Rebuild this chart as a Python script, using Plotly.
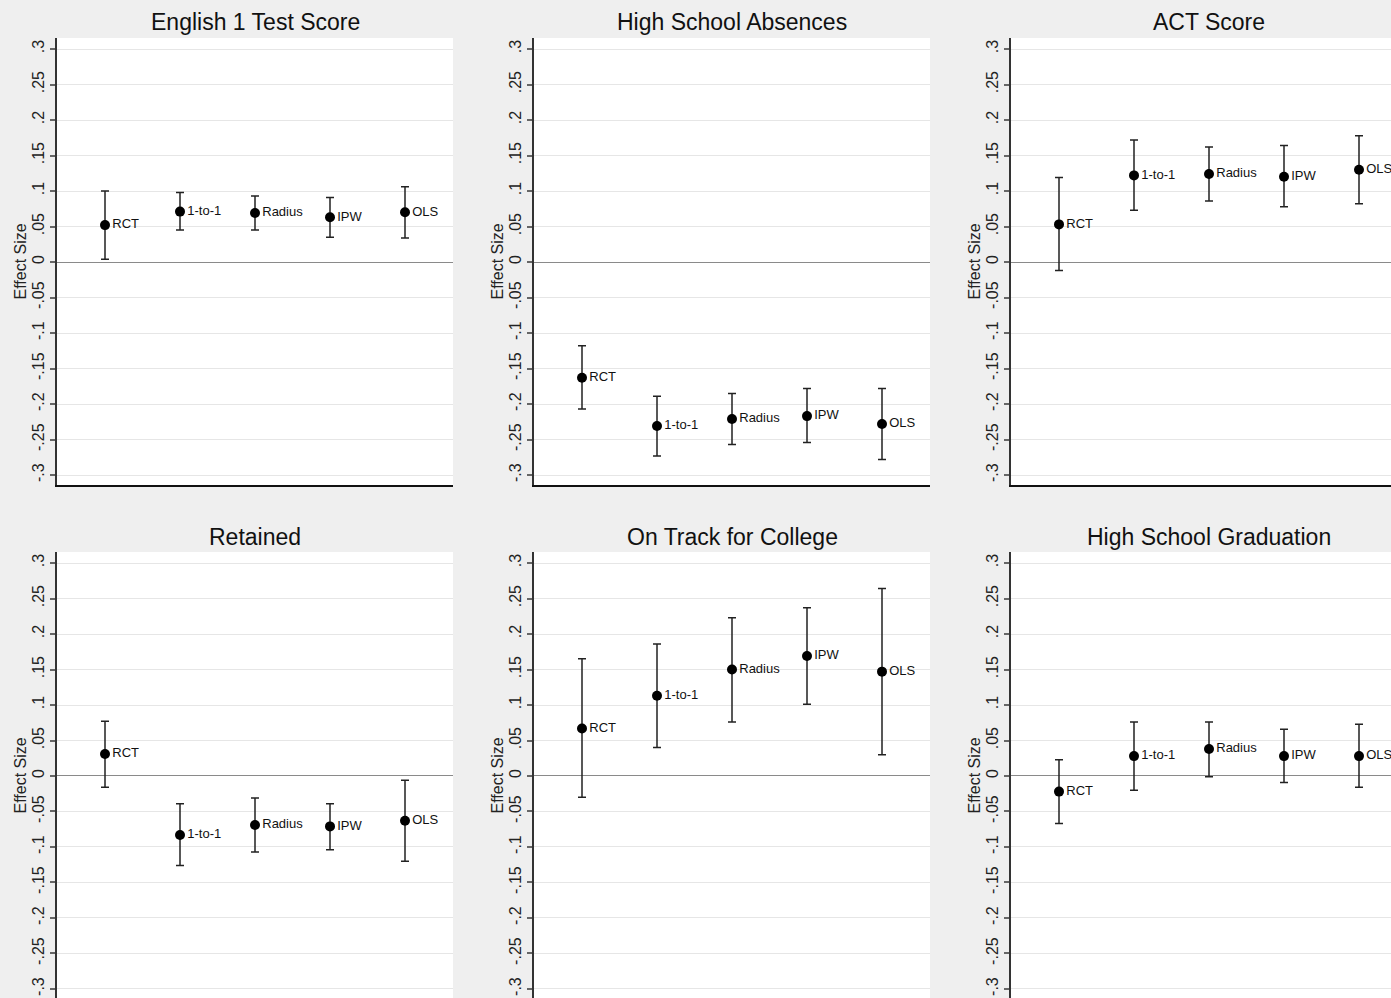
import plotly.graph_objects as go

methods = ["RCT", "1-to-1", "Radius", "IPW", "OLS"]
method_pos = [1, 2, 3, 4, 5]

titles = ["English 1 Test Score", "High School Absences", "ACT Score",
          "Retained", "On Track for College", "High School Graduation"]

english_est = [0.052, 0.071, 0.069, 0.063, 0.070]
english_lo = [0.004, 0.045, 0.045, 0.035, 0.034]
english_hi = [0.100, 0.098, 0.093, 0.091, 0.106]

absences_est = [-0.163, -0.231, -0.221, -0.217, -0.228]
absences_lo = [-0.207, -0.273, -0.257, -0.254, -0.278]
absences_hi = [-0.118, -0.189, -0.185, -0.178, -0.178]

act_est = [0.053, 0.122, 0.124, 0.120, 0.130]
act_lo = [-0.012, 0.073, 0.086, 0.078, 0.082]
act_hi = [0.119, 0.172, 0.162, 0.164, 0.178]

retained_est = [0.031, -0.083, -0.069, -0.071, -0.063]
retained_lo = [-0.016, -0.126, -0.107, -0.104, -0.120]
retained_hi = [0.077, -0.039, -0.031, -0.039, -0.006]

ontrack_est = [0.067, 0.113, 0.150, 0.169, 0.147]
ontrack_lo = [-0.030, 0.040, 0.076, 0.101, 0.030]
ontrack_hi = [0.165, 0.186, 0.223, 0.237, 0.264]

grad_est = [-0.022, 0.028, 0.038, 0.028, 0.028]
grad_lo = [-0.067, -0.020, -0.001, -0.009, -0.016]
grad_hi = [0.023, 0.076, 0.076, 0.066, 0.073]

panels = [
    (english_est, english_lo, english_hi),
    (absences_est, absences_lo, absences_hi),
    (act_est, act_lo, act_hi),
    (retained_est, retained_lo, retained_hi),
    (ontrack_est, ontrack_lo, ontrack_hi),
    (grad_est, grad_lo, grad_hi),
]

tick_vals = [-0.3, -0.25, -0.2, -0.15, -0.1, -0.05, 0, 0.05, 0.1, 0.15, 0.2, 0.25, 0.3]
tick_text = ["-.3", "-.25", "-.2", "-.15", "-.1", "-.05", "0", ".05", ".1", ".15", ".2", ".25", ".3"]

W, H = 1391, 998
FONT = "Liberation Sans, Arial, Helvetica, sans-serif"

# pixel layout
col_left = [57, 534, 1011]
col_right = [453, 930, 1391]
col_full_right = [453, 930, 1407]
row_top = [38, 552]
row_bot = [485, 998]
title_y = [22, 537]
px_per_x = 75.0
x0 = 0.36

fig = go.Figure()
annotations = []
for i, (est, lo, hi) in enumerate(panels):
    r, c = divmod(i, 3)
    ax = "" if i == 0 else str(i + 1)
    plus = [h - e for h, e in zip(hi, est)]
    minus = [e - l for e, l in zip(est, lo)]
    fig.add_trace(go.Scatter(
        x=method_pos, y=est, mode="markers+text",
        text=methods, textposition="middle right",
        textfont=dict(family=FONT, size=13, color="#111"),
        marker=dict(color="black", size=10),
        error_y=dict(type="data", array=plus, arrayminus=minus,
                     color="#222", thickness=1.5, width=4),
        cliponaxis=False,
        xaxis="x" + ax, yaxis="y" + ax, showlegend=False, hoverinfo="skip",
    ))
    wpx = col_right[c] - col_left[c]
    xd = [col_left[c] / W, col_right[c] / W]
    yd = [1 - row_bot[r] / H, 1 - row_top[r] / H]
    if r == 0:
        yr = [-0.314, 0.3155]
    else:
        yr = [-0.3127, 0.3155]
    fig.update_layout(**{
        "xaxis" + ax: dict(domain=xd, range=[x0, x0 + wpx / px_per_x],
                           showgrid=False, zeroline=False, showticklabels=False,
                           ticks="", showline=(r == 0), linecolor="#111", linewidth=1.5,
                           anchor="y" + ax, fixedrange=True),
        "yaxis" + ax: dict(domain=yd, range=yr, tickvals=tick_vals, ticktext=tick_text,
                           tickangle=-90, ticks="outside", ticklen=5, tickcolor="#666",
                           tickwidth=1.5,
                           tickfont=dict(family=FONT, size=16, color="#222"),
                           showgrid=True, gridcolor="#e6e6e6", gridwidth=1.3,
                           zeroline=True, zerolinecolor="#8a8a8a", zerolinewidth=1.2,
                           showline=True, linecolor="#333", linewidth=1.5,
                           anchor="x" + ax, fixedrange=True),
    })
    cx = (col_left[c] + col_full_right[c]) / 2
    annotations.append(dict(text=titles[i], x=cx / W, y=1 - title_y[r] / H,
                            xref="paper", yref="paper", showarrow=False,
                            xanchor="center", yanchor="middle",
                            font=dict(family=FONT, size=23, color="#111")))
    annotations.append(dict(text="Effect Size", x=20 / W + (col_left[c] - 57) / W,
                            y=1 - ((row_top[r] + (485 - 38)) + row_top[r]) / 2 / H,
                            xref="paper", yref="paper", showarrow=False,
                            xanchor="center", yanchor="middle", textangle=-90,
                            font=dict(family=FONT, size=16, color="#222")))

fig.update_layout(width=W, height=H, margin=dict(l=0, r=0, t=0, b=0),
                  paper_bgcolor="#efefef", plot_bgcolor="white",
                  annotations=annotations)
fig.write_html("out.html", config={"displayModeBar": False},
               post_script="document.body.style.margin='0';document.body.style.overflow='hidden';")
